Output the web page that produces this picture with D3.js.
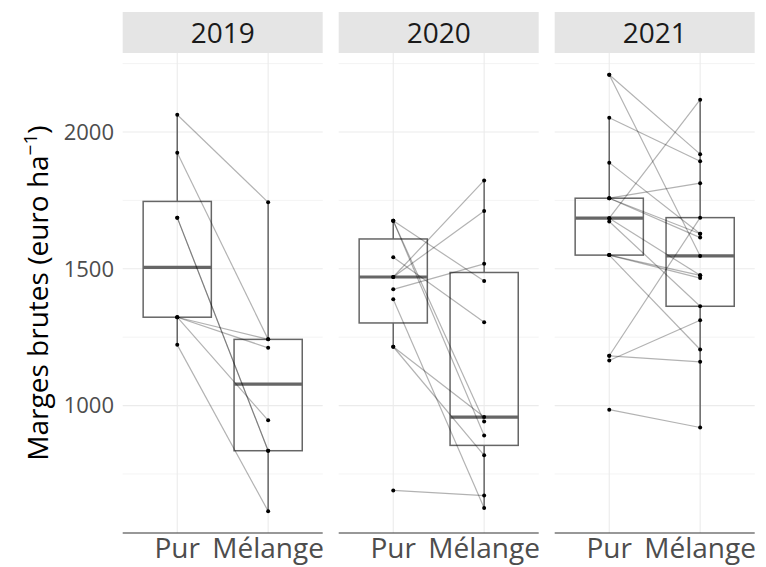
<!DOCTYPE html>
<html>
<head>
<meta charset="utf-8">
<script src="https://cdn.jsdelivr.net/npm/d3@7"></script>
<style>
  body { margin: 0; background: #fff; }
  text { font-family: "Open Sans", "Noto Sans", sans-serif; }
</style>
</head>
<body>
<svg id="chart" width="766" height="567"></svg>
<script>
// paired values (Pur -> Mélange), one array per year and treatment
const years = ["2019", "2020", "2021"];
const groups = ["Pur", "Mélange"];

const pur2019 = [2063, 1924, 1687, 1687, 1323, 1323, 1323, 1222];
const mel2019 = [1743, 1242, 835, 835, 1242, 1211, 946, 614];

const pur2020 = [1676, 1676, 1676, 1542, 1470, 1470, 1425, 1389, 1215, 1215, 690];
const mel2020 = [1455, 942, 891, 1305, 1823, 1711, 1518, 626, 958, 818, 671];

const pur2021 = [1685, 1685, 2209, 2209, 2052, 1758, 1758, 1758, 1888, 1550, 1550, 1550, 1673, 1182, 1182, 1165, 985];
const mel2021 = [2118, 1476, 1919, 1547, 1893, 1813, 1628, 1614, 1628, 1476, 1466, 1205, 1363, 1687, 1160, 1312, 920];

const yTicks = [1000, 1500, 2000];
const yMinor = [750, 1250, 1750, 2250];

const data = {
  "2019": {pur: pur2019, mel: mel2019},
  "2020": {pur: pur2020, mel: mel2020},
  "2021": {pur: pur2021, mel: mel2021}
};

const svg = d3.select("#chart");
const panelLeft = [122.7, 338.7, 554.7];
const panelW = 200;
const plotTop = 53, plotBottom = 533;
const stripTop = 12, stripBottom = 53;

let all = [];
years.forEach(yr => { all = all.concat(data[yr].pur, data[yr].mel); });
const lo = d3.min(all), hi = d3.max(all);
const pad = (hi - lo) * 0.05;
const y = d3.scaleLinear().domain([lo - pad, hi + pad]).range([plotBottom, plotTop]);

const x = d3.scalePoint().domain(groups).range([0, panelW]).padding(0.6);
const boxW = x.step() * 0.75;

function stats(v) {
  const s = v.slice().sort(d3.ascending);
  const q1 = d3.quantile(s, 0.25), med = d3.quantile(s, 0.5), q3 = d3.quantile(s, 0.75);
  const iqr = q3 - q1;
  const wlo = d3.min(s.filter(d => d >= q1 - 1.5 * iqr));
  const whi = d3.max(s.filter(d => d <= q3 + 1.5 * iqr));
  return {q1, med, q3, wlo, whi};
}

years.forEach((yr, i) => {
  const g = svg.append("g").attr("transform", `translate(${panelLeft[i]},0)`);

  // strip
  g.append("rect").attr("x", 0).attr("y", stripTop)
    .attr("width", panelW).attr("height", stripBottom - stripTop)
    .attr("fill", "#e5e5e5");
  g.append("text").attr("x", panelW / 2).attr("y", (stripTop + stripBottom) / 2)
    .attr("dy", "0.36em").attr("text-anchor", "middle")
    .attr("font-size", 28).attr("fill", "#1a1a1a").text(yr);

  // grid
  g.selectAll(".minor").data(yMinor).join("line")
    .attr("x1", 0).attr("x2", panelW)
    .attr("y1", d => y(d)).attr("y2", d => y(d))
    .attr("stroke", "#ebebeb").attr("stroke-width", 0.6);
  g.selectAll(".major").data(yTicks).join("line")
    .attr("x1", 0).attr("x2", panelW)
    .attr("y1", d => y(d)).attr("y2", d => y(d))
    .attr("stroke", "#ebebeb").attr("stroke-width", 1.1);
  g.selectAll(".vgrid").data(groups).join("line")
    .attr("x1", d => x(d)).attr("x2", d => x(d))
    .attr("y1", plotTop).attr("y2", plotBottom)
    .attr("stroke", "#ebebeb").attr("stroke-width", 1.1);

  // boxplots
  const vals = {"Pur": data[yr].pur, "Mélange": data[yr].mel};
  groups.forEach(gr => {
    const s = stats(vals[gr]);
    const cx = x(gr);
    g.append("line").attr("x1", cx).attr("x2", cx)
      .attr("y1", y(s.whi)).attr("y2", y(s.q3))
      .attr("stroke", "#666").attr("stroke-width", 1.5);
    g.append("line").attr("x1", cx).attr("x2", cx)
      .attr("y1", y(s.q1)).attr("y2", y(s.wlo))
      .attr("stroke", "#666").attr("stroke-width", 1.5);
    g.append("rect").attr("x", cx - boxW / 2).attr("y", y(s.q3))
      .attr("width", boxW).attr("height", y(s.q1) - y(s.q3))
      .attr("fill", "none").attr("stroke", "#666").attr("stroke-width", 1.5);
    g.append("line").attr("x1", cx - boxW / 2).attr("x2", cx + boxW / 2)
      .attr("y1", y(s.med)).attr("y2", y(s.med))
      .attr("stroke", "#666").attr("stroke-width", 3.2);
  });

  // paired lines
  const pairs = data[yr].pur.map((p, k) => [p, data[yr].mel[k]]);
  g.selectAll(".pair").data(pairs).join("line")
    .attr("x1", x("Pur")).attr("x2", x("Mélange"))
    .attr("y1", d => y(d[0])).attr("y2", d => y(d[1]))
    .attr("stroke", "#000").attr("stroke-opacity", 0.3).attr("stroke-width", 1.2);

  // points
  const pts = [];
  pairs.forEach(d => { pts.push(["Pur", d[0]]); pts.push(["Mélange", d[1]]); });
  g.selectAll(".pt").data(pts).join("circle")
    .attr("cx", d => x(d[0])).attr("cy", d => y(d[1])).attr("r", 2)
    .attr("fill", "#000");

  // x axis line
  g.append("line").attr("x1", 0).attr("x2", panelW)
    .attr("y1", plotBottom).attr("y2", plotBottom)
    .attr("stroke", "#333").attr("stroke-width", 1.2);

  // x labels
  g.selectAll(".xl").data(groups).join("text")
    .attr("x", d => x(d)).attr("y", 558)
    .attr("text-anchor", "middle").attr("font-size", 28)
    .attr("fill", "#4d4d4d").text(d => d);
});

// y tick labels
svg.selectAll(".yl").data(yTicks).join("text")
  .attr("x", 114).attr("y", d => y(d)).attr("dy", "0.36em")
  .attr("text-anchor", "end").attr("font-size", 22)
  .attr("fill", "#4d4d4d").text(d => d);

// y title
const yt = svg.append("text")
  .attr("transform", `translate(48,${(plotTop + plotBottom) / 2}) rotate(-90)`)
  .attr("text-anchor", "middle").attr("font-size", 28).attr("fill", "#000");
yt.append("tspan").text("Marges brutes (euro ha");
yt.append("tspan").attr("dy", -11).attr("font-size", 19).text("\u22121");
yt.append("tspan").attr("dy", 11).text(")");
</script>
</body>
</html>
